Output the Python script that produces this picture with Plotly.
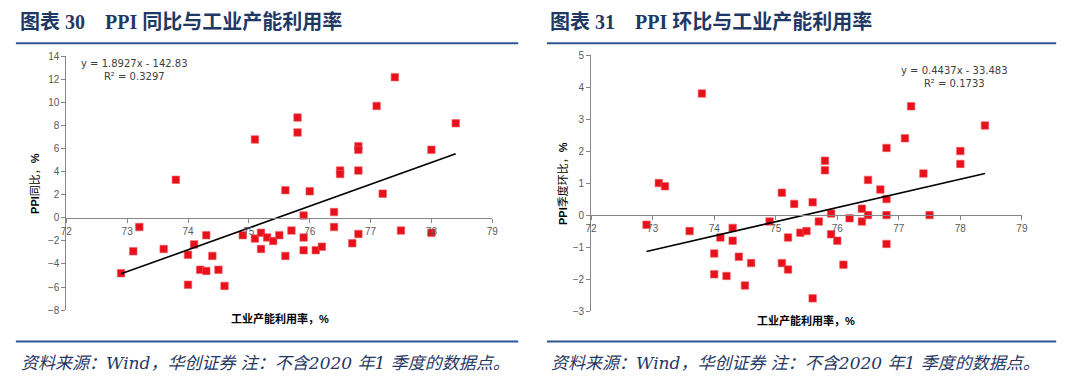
import plotly.graph_objects as go

# ---------------- data ----------------
# Left chart: PPI YoY (%) vs industrial capacity utilization (%)
util_left = [72.9, 73.1, 73.2, 73.6, 73.8, 74.0, 74.0, 74.1, 74.2, 74.3, 74.3, 74.4, 74.5, 74.6,
             74.9, 75.1, 75.1, 75.2, 75.2, 75.3, 75.4, 75.5, 75.6, 75.6, 75.7, 75.8, 75.8,
             75.9, 75.9, 75.9, 76.0, 76.1, 76.2, 76.4, 76.4, 76.5, 76.5, 76.7, 76.8, 76.8,
             76.8, 76.8, 77.1, 77.2, 77.4, 77.5, 78.0, 78.0, 78.4]
ppi_yoy = [-4.8, -2.9, -0.8, -2.7, 3.3, -3.2, -5.8, -2.3, -4.5, -1.5, -4.6, -3.3, -4.5, -5.9,
           -1.5, 6.8, -1.8, -1.3, -2.7, -1.7, -2.0, -1.5, 2.4, -3.3, -1.1, 8.7, 7.4,
           0.2, -1.7, -2.8, 2.3, -2.8, -2.5, 0.5, -0.8, 4.1, 3.8, -2.2, 6.2, 5.9,
           4.1, -1.4, 9.7, 2.1, 12.2, -1.1, 5.9, -1.3, 8.2]

# Right chart: PPI QoQ (%) vs industrial capacity utilization (%)
util_right = [72.9, 73.1, 73.2, 73.6, 73.8, 74.0, 74.0, 74.1, 74.2, 74.3, 74.3, 74.4, 74.5, 74.6,
              74.9, 75.1, 75.1, 75.2, 75.2, 75.3, 75.4, 75.5, 75.6, 75.6, 75.7, 75.8, 75.8,
              75.9, 75.9, 76.0, 76.1, 76.2, 76.4, 76.4, 76.5, 76.5, 76.7, 76.8, 76.8, 76.8,
              76.8, 77.1, 77.2, 77.4, 77.5, 78.0, 78.0, 78.4]
ppi_qoq = [-0.3, 1.0, 0.9, -0.5, 3.8, -1.2, -1.85, -0.7, -1.9, -0.4, -0.8, -1.3, -2.2, -1.5,
           -0.2, 0.7, -1.5, -0.7, -1.7, 0.35, -0.55, -0.5, 0.4, -2.6, -0.2, 1.7, 1.4,
           0.05, -0.6, -0.8, -1.55, -0.1, 0.2, -0.2, 1.1, 0.0, 0.8, 2.1, 0.5, 0.0,
           -0.9, 2.4, 3.4, 1.3, 0.0, 2.0, 1.6, 2.8]

# Trend lines (Excel linear fit, as shown on the charts)
slope_left, intercept_left = 1.8927, -142.83
r2_left = 0.3297
slope_right, intercept_right = 0.4437, -33.483
r2_right = 0.1733

x_ticks = [72, 73, 74, 75, 76, 77, 78, 79]
y_ticks_left = list(range(-8, 15, 2))
y_ticks_right = list(range(-3, 6, 1))

title_left = "图表 30\u00a0\u00a0\u00a0\u00a0PPI 同比与工业产能利用率"
title_right = "图表 31\u00a0\u00a0\u00a0\u00a0PPI 环比与工业产能利用率"
ytitle_left = "<b>PPI</b>同比，<b>%</b>"
ytitle_right = "<b>PPI</b>季度环比，<b>%</b>"
xtitle = "<b>工业产能利用率，%</b>"
footer = "资料来源：Wind，华创证券 注：不含2020 年1 季度的数据点。"

# ---------------- styling ----------------
W, H = 1080, 382
RED = "#E8101A"
NAVY = "#1F3864"
LINE_BLUE = "#2F5597"
AX = "#868686"
TICKFONT = dict(family="Liberation Sans, Arial, sans-serif", size=10, color="#595959")


def px_x(p):
    return p / W


def px_y(p):
    return 1 - p / H


fig = go.Figure()

# left scatter + trend
fig.add_trace(go.Scatter(x=util_left, y=ppi_yoy, mode="markers",
                         marker=dict(symbol="square", size=7.5, color=RED,
                                     line=dict(color="#F05A5F", width=0.6)),
                         xaxis="x", yaxis="y", showlegend=False))
xl = [min(util_left), max(util_left)]
fig.add_trace(go.Scatter(x=xl, y=[slope_left * v + intercept_left for v in xl], mode="lines",
                         line=dict(color="black", width=1.6), xaxis="x", yaxis="y",
                         showlegend=False))

# right scatter + trend
fig.add_trace(go.Scatter(x=util_right, y=ppi_qoq, mode="markers",
                         marker=dict(symbol="square", size=7.5, color=RED,
                                     line=dict(color="#F05A5F", width=0.6)),
                         xaxis="x2", yaxis="y2", showlegend=False))
xr = [min(util_right), max(util_right)]
fig.add_trace(go.Scatter(x=xr, y=[slope_right * v + intercept_right for v in xr], mode="lines",
                         line=dict(color="black", width=1.6), xaxis="x2", yaxis="y2",
                         showlegend=False))

# domains (pixel-derived)
dl_x = [px_x(61), px_x(491.7)]
dl_y = [px_y(314), px_y(52)]
dr_x = [px_x(591.7), px_x(1027.3)]
dr_y = [px_y(315), px_y(50.7)]

yl_range = [-8, 14]
yr_range = [-3, 5]
pos_left = dl_y[0] + (dl_y[1] - dl_y[0]) * (0 - yl_range[0]) / (yl_range[1] - yl_range[0])
pos_right = dr_y[0] + (dr_y[1] - dr_y[0]) * (0 - yr_range[0]) / (yr_range[1] - yr_range[0])

common_x = dict(range=[72, 79], tickvals=x_ticks, showgrid=False, zeroline=False,
                showline=True, linecolor=AX, linewidth=1, ticks="outside", ticklen=4,
                tickcolor=AX, tickfont=TICKFONT, anchor="free")
common_y = dict(showgrid=False, zeroline=False, showline=True, linecolor=AX, linewidth=1,
                ticks="outside", ticklen=4, tickcolor=AX, tickfont=TICKFONT)

fig.update_layout(
    width=W, height=H,
    margin=dict(l=0, r=0, t=0, b=0),
    paper_bgcolor="white", plot_bgcolor="white",
    xaxis=dict(domain=dl_x, position=pos_left, **common_x),
    yaxis=dict(domain=dl_y, range=yl_range, tickvals=y_ticks_left, anchor="x", **common_y),
    xaxis2=dict(domain=dr_x, position=pos_right, **common_x),
    yaxis2=dict(domain=dr_y, range=yr_range, tickvals=y_ticks_right, anchor="x2", **common_y),
)

shapes = []
for x0, x1 in [(10, 518), (547, 1062)]:
    for yy in (38.5, 346.5):
        shapes.append(dict(type="line", xref="paper", yref="paper",
                           x0=px_x(x0), x1=px_x(x1), y0=px_y(yy), y1=px_y(yy),
                           line=dict(color=LINE_BLUE, width=2)))
fig.update_layout(shapes=shapes)

ann = []
TITLEFONT = dict(family="Liberation Serif, Times New Roman, Noto Sans CJK SC, serif",
                 size=20, color=NAVY)
for txt, x0 in [(title_left, 12), (title_right, 548)]:
    ann.append(dict(text="<b>" + txt + "</b>", xref="paper", yref="paper",
                    x=px_x(x0), y=px_y(17), xanchor="left", yanchor="middle",
                    showarrow=False, font=TITLEFONT))
FOOTFONT = dict(family="DejaVu Serif, Noto Sans CJK SC, serif", size=17,
                color=NAVY, style="italic")
for x0 in (13, 549):
    ann.append(dict(text=footer, xref="paper", yref="paper", x=px_x(x0), y=px_y(369),
                    xanchor="left", yanchor="middle", showarrow=False, font=FOOTFONT))

AXTFONT = dict(family="Liberation Sans, Noto Sans CJK SC, sans-serif", size=11, color="black")
ann.append(dict(text=ytitle_left, xref="paper", yref="paper", x=px_x(30), y=px_y(183),
                textangle=-90, xanchor="center", yanchor="middle", showarrow=False,
                font=AXTFONT))
ann.append(dict(text=ytitle_right, xref="paper", yref="paper", x=px_x(562), y=px_y(183),
                textangle=-90, xanchor="center", yanchor="middle", showarrow=False,
                font=AXTFONT))
ann.append(dict(text=xtitle, xref="paper", yref="paper", x=px_x(277), y=px_y(323),
                xanchor="center", yanchor="middle", showarrow=False, font=AXTFONT))
ann.append(dict(text=xtitle, xref="paper", yref="paper", x=px_x(809), y=px_y(325),
                xanchor="center", yanchor="middle", showarrow=False, font=AXTFONT))

EQFONT = dict(family="DejaVu Sans, Verdana, sans-serif", size=10, color="#404040")
ann.append(dict(text=f"y = {slope_left}x - {abs(intercept_left)}<br>R² = {r2_left}",
                xref="paper", yref="paper", x=px_x(130), y=px_y(66),
                xanchor="center", yanchor="middle", showarrow=False, font=EQFONT))
ann.append(dict(text=f"y = {slope_right}x - {abs(intercept_right)}<br>R² = {r2_right}",
                xref="paper", yref="paper", x=px_x(959), y=px_y(73),
                xanchor="center", yanchor="middle", showarrow=False, font=EQFONT))
fig.update_layout(annotations=ann)

fig.write_html("out.html",
               config={"displayModeBar": False},
               post_script="document.body.style.margin='0';"
                           "document.body.style.overflow='hidden';")
